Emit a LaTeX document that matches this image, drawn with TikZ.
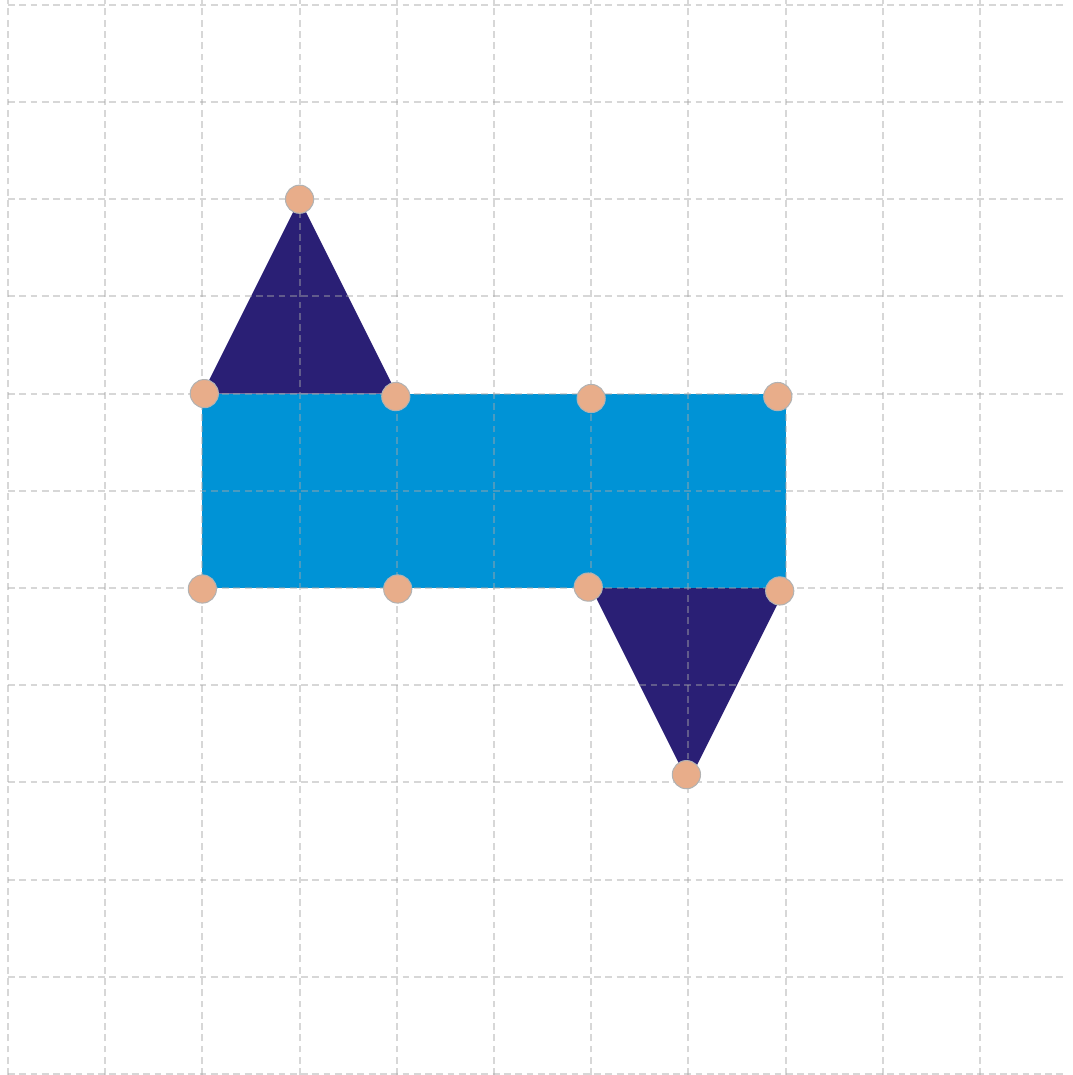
\documentclass[tikz,border=0pt]{standalone}
\usepackage{tikz}
\definecolor{netblue}{HTML}{0093D6}
\definecolor{netdark}{HTML}{2A1F75}
\definecolor{netdot}{HTML}{E8AD8A}
\tikzstyle{gridline}=[gray!70,opacity=0.45,line width=0.6pt,dash pattern=on 2pt off 1.3pt]
\tikzstyle{vertex}=[circle,fill=netdot,draw=gray!60,line width=0.3pt,inner sep=0pt,minimum size=0.29cm]
\begin{document}
\begin{tikzpicture}
\useasboundingbox (-0.082,-0.01) rectangle (10.95,11.05);
% corners of the net
\coordinate (r1) at (2,7);
\coordinate (r2) at (4,7);
\coordinate (r3) at (6,7);
\coordinate (r4) at (8,7);
\coordinate (r5) at (2,5);
\coordinate (r6) at (4,5);
\coordinate (r7) at (6,5);
\coordinate (r8) at (8,5);
\coordinate (top) at (3,9);
\coordinate (bot) at (7,3);
% faces
\fill[netblue] (r1) -- (r4) -- (r8) -- (r5) -- cycle;
\fill[netdark] (r1) -- (top) -- (r2) -- cycle;
\fill[netdark] (r7) -- (r8) -- (bot) -- cycle;
% grid
\foreach \x in {0,...,10}
    \draw[gridline] (\x,-0.01) -- (\x,11.05);
\foreach \y in {0,...,11}
    \draw[gridline] (0,\y) -- (10.9,\y);
% vertices
\node[vertex] (p1) at (2.02,7.0) {};
\node[vertex] (p2) at (3.99,6.97) {};
\node[vertex] (p3) at (6.0,6.95) {};
\node[vertex] (p4) at (7.92,6.97) {};
\node[vertex] (p5) at (2.0,4.99) {};
\node[vertex] (p6) at (4.01,4.99) {};
\node[vertex] (p7) at (5.97,5.01) {};
\node[vertex] (p8) at (7.94,4.97) {};
\node[vertex] (p9) at (3.0,9.0) {};
\node[vertex] (p10) at (6.98,3.08) {};
\end{tikzpicture}
\end{document}
